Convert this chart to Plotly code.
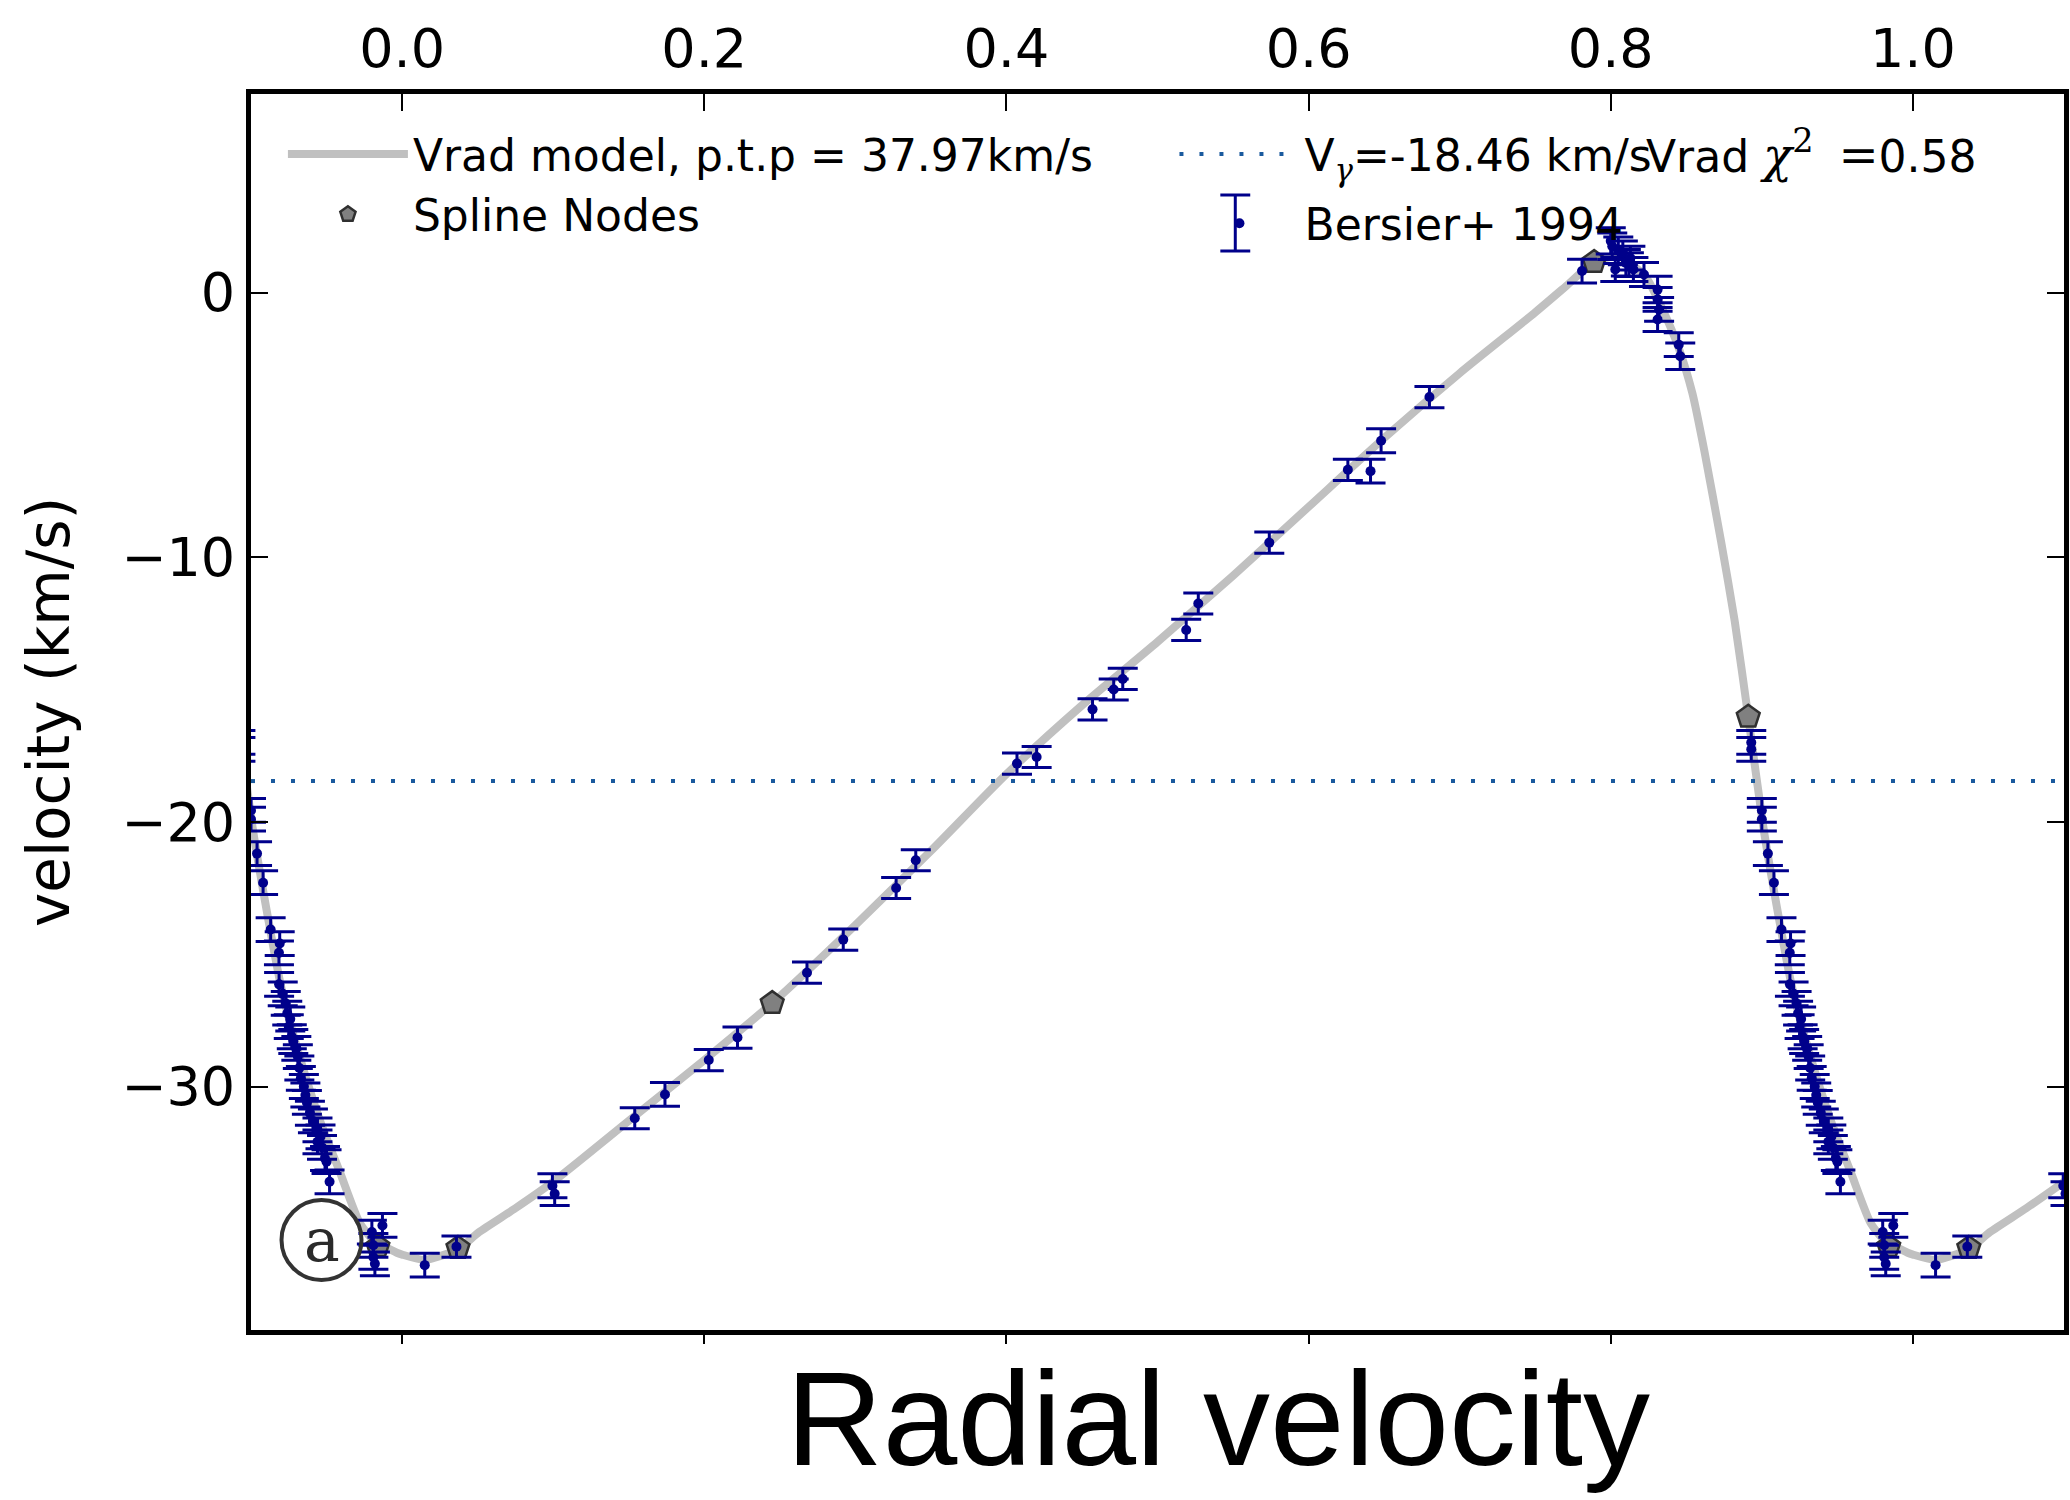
import numpy as np
import plotly.graph_objects as go

# ---------------- data ----------------
# Radial-velocity model (phase, km/s) over one pulsation cycle
model_phase = [0.000, 0.015, 0.037, 0.051, 0.075, 0.100, 0.150, 0.200, 0.245, 0.300,
               0.350, 0.400, 0.450, 0.500, 0.550, 0.600, 0.650, 0.700, 0.750, 0.770,
               0.789, 0.805, 0.823, 0.834, 0.845, 0.854, 0.862, 0.873, 0.882, 0.891,
               0.901, 0.911, 0.920, 0.931, 0.946, 0.959, 0.972, 0.981, 0.9965]
model_v = [-36.35, -36.55, -36.15, -35.50, -34.60, -33.60, -31.30, -29.00, -26.85, -23.90,
           -21.10, -18.20, -15.60, -13.20, -10.70, -8.10, -5.50, -3.05, -0.75, 0.22,
           1.15, 1.37, 0.60, -0.60, -2.10, -3.80, -6.00, -9.40, -12.40, -16.03,
           -20.20, -23.55, -26.25, -28.64, -31.34, -33.26, -35.16, -35.80, -36.28]

# Spline nodes
node_phase = [0.037, 0.245, 0.789, 0.891, 0.984]
node_v = [-36.10, -26.85, 1.15, -16.03, -36.05]

# Bersier+ 1994 measurements
obs_phase = [0.980, 0.987, 0.981, 0.981, 0.982, 0.015, 0.036,
             0.0995, 0.101, 0.154, 0.174, 0.203, 0.222, 0.268, 0.292, 0.327, 0.340,
             0.407, 0.420, 0.457, 0.471, 0.477, 0.519, 0.527, 0.574, 0.626, 0.641,
             0.648, 0.680,
             0.781, 0.800, 0.801, 0.803, 0.805, 0.808, 0.810, 0.812, 0.813, 0.815,
             0.822, 0.831, 0.831, 0.832, 0.831, 0.845, 0.846,
             0.893, 0.893, 0.900, 0.900, 0.904, 0.908, 0.913, 0.919, 0.9185, 0.9186,
             0.921, 0.923, 0.924, 0.925, 0.926, 0.927, 0.928, 0.930, 0.931, 0.932,
             0.933, 0.935, 0.936, 0.937, 0.939, 0.941, 0.944, 0.946, 0.944, 0.947,
             0.949, 0.950, 0.952]
obs_v = [-35.50, -35.25, -36.00, -36.45, -36.70, -36.75, -36.05,
         -33.75, -34.05, -31.20, -30.30, -29.00, -28.15, -25.70, -24.45, -22.50, -21.45,
         -17.80, -17.55, -15.75, -15.00, -14.60, -12.75, -11.75, -9.45, -6.70, -6.75,
         -5.60, -3.95,
         0.81, 1.95, 1.75, 0.87, 1.60, 1.50, 1.12, 1.05, 1.30, 0.87,
         0.68, 0.11, -0.26, -0.64, -1.02, -1.97, -2.41,
         -17.00, -17.26, -19.57, -19.90, -21.20, -22.30, -24.07, -24.60, -24.95, -26.14,
         -26.50, -26.86, -27.23, -27.74, -27.45, -28.12, -28.30, -28.56, -28.87, -29.30,
         -29.69, -30.00, -30.32, -30.60, -31.01, -31.30, -31.64, -31.90, -32.09, -32.30,
         -32.72, -32.84, -33.60]
obs_err = [0.45, 0.45, 0.45, 0.45, 0.45, 0.45, 0.40,
           0.45, 0.45, 0.40, 0.45, 0.40, 0.40, 0.40, 0.40, 0.40, 0.40,
           0.40, 0.40, 0.40, 0.40, 0.40, 0.40, 0.40, 0.40, 0.40, 0.45,
           0.45, 0.40,
           0.45, 0.50, 0.50, 0.45, 0.50, 0.45, 0.50, 0.45, 0.45, 0.45,
           0.45, 0.50, 0.45, 0.45, 0.45, 0.45, 0.50,
           0.45, 0.45, 0.45, 0.45, 0.45, 0.45, 0.45, 0.45, 0.45, 0.45,
           0.45, 0.45, 0.45, 0.45, 0.45, 0.45, 0.45, 0.45, 0.45, 0.45,
           0.45, 0.45, 0.45, 0.45, 0.45, 0.45, 0.45, 0.45, 0.45, 0.45,
           0.45, 0.45, 0.45]

v_gamma = -18.46
ptp = 37.97
chi2 = 0.58

x_ticks = [0.0, 0.2, 0.4, 0.6, 0.8, 1.0]
y_ticks = [0, -10, -20, -30]
x_range = [-0.1, 1.1]
y_range = [-39.2, 7.5]


def unfold(ph, vals, extra=None):
    """Repeat phased data at phase-1, phase, phase+1."""
    ph = np.asarray(ph, float)
    vals = np.asarray(vals, float)
    xs = np.concatenate([ph - 1, ph, ph + 1])
    ys = np.concatenate([vals, vals, vals])
    if extra is not None:
        ex = np.asarray(extra, float)
        return xs, ys, np.concatenate([ex, ex, ex])
    return xs, ys


mx, my = unfold(model_phase, model_v)
order = np.argsort(mx)
mx, my = mx[order], my[order]
keep = (mx > -0.25) & (mx < 1.25)
mx, my = mx[keep], my[keep]

nx, ny = unfold(node_phase, node_v)
ox, oy, oe = unfold(obs_phase, obs_v, obs_err)

SANS = "DejaVu Sans"
SERIF = "DejaVu Serif"
BLUE = "#00008b"

fig = go.Figure()

fig.add_trace(go.Scatter(
    x=mx, y=my, mode="lines",
    line=dict(color="#c0c0c0", width=8, shape="spline", smoothing=0.6),
    name=f"Vrad model, p.t.p = {ptp:.2f}km/s", legend="legend", hoverinfo="skip"))

fig.add_trace(go.Scatter(
    x=x_range, y=[v_gamma, v_gamma], mode="lines",
    line=dict(color="#1a5a9e", width=4, dash="4px,16px"),
    name=f'V<sub><span style="font-family:{SERIF}"><i>γ</i></span></sub>={v_gamma:.2f} km/s',
    legend="legend2", legendgroup="g1"))

fig.add_trace(go.Scatter(
    x=nx, y=ny, mode="markers",
    marker=dict(symbol="pentagon", size=24, color="#808080",
                line=dict(color="#303030", width=2.5)),
    name="Spline Nodes", legend="legend"))

fig.add_trace(go.Scatter(
    x=ox, y=oy, mode="markers",
    marker=dict(symbol="circle", size=10, color=BLUE),
    error_y=dict(type="data", array=oe, visible=True, color=BLUE,
                 thickness=3, width=15),
    name="Bersier+ 1994", legend="legend2", legendgroup="g2"))

# empty trace so the top axis exists
fig.add_trace(go.Scatter(x=[None], y=[None], xaxis="x2", showlegend=False,
                         hoverinfo="skip"))

W, H = 2070, 1500
ML, MR, MT, MB = 251, 1, 94, 170
PW, PH = W - ML - MR, H - MT - MB


def px2paper(px, py):
    return (px - ML) / PW, 1 - (py - MT) / PH


# legend error-bar glyph for "Bersier+ 1994"
gx, gy = px2paper(1238, 223)
half_h = 28 / PH
half_w = 15 / PW
shapes = [
    dict(type="line", xref="paper", yref="paper", x0=gx, x1=gx,
         y0=gy - half_h, y1=gy + half_h, line=dict(color=BLUE, width=3)),
    dict(type="line", xref="paper", yref="paper", x0=gx - half_w, x1=gx + half_w,
         y0=gy - half_h, y1=gy - half_h, line=dict(color=BLUE, width=3)),
    dict(type="line", xref="paper", yref="paper", x0=gx - half_w, x1=gx + half_w,
         y0=gy + half_h, y1=gy + half_h, line=dict(color=BLUE, width=3)),
]
# circled "a" panel tag
cx, cy = px2paper(321.7, 1240)
shapes.append(dict(type="circle", xref="paper", yref="paper",
                   xsizemode="pixel", ysizemode="pixel",
                   xanchor=cx, yanchor=cy, x0=-40, x1=40, y0=-40, y1=40,
                   line=dict(color="#333333", width=4)))

ax_common = dict(showgrid=False, zeroline=False, showline=True,
                 linecolor="black", linewidth=5)

fig.update_layout(
    width=W, height=H,
    margin=dict(l=ML, r=MR, t=MT, b=MB),
    paper_bgcolor="white", plot_bgcolor="white",
    font=dict(family=SANS, color="black"),
    xaxis=dict(range=x_range, tickvals=x_ticks, showticklabels=False,
               ticks="outside", ticklen=9, tickwidth=2, tickcolor="black",
               **ax_common),
    xaxis2=dict(range=x_range, overlaying="x", side="top", anchor="y",
                tickvals=x_ticks, ticktext=[f"{t:.1f}" for t in x_ticks],
                ticks="inside", ticklen=17, tickwidth=2, tickcolor="black",
                tickfont=dict(size=54, family=SANS), **ax_common),
    yaxis=dict(range=y_range, tickvals=y_ticks, ticks="inside", ticklen=17,
               tickwidth=2, tickcolor="black", mirror="ticks",
               tickfont=dict(size=54, family=SANS),
               title=dict(text="velocity (km/s)", font=dict(size=58, family=SANS),
                          standoff=34),
               **ax_common),
    legend=dict(x=px2paper(283, 0)[0], y=px2paper(0, 119)[1], xanchor="left",
                yanchor="top", bgcolor="rgba(0,0,0,0)", borderwidth=0,
                font=dict(size=44, family=SANS), itemwidth=120,
                tracegroupgap=0),
    legend2=dict(x=px2paper(1177, 0)[0], y=px2paper(0, 119)[1], xanchor="left",
                 yanchor="top", bgcolor="rgba(0,0,0,0)", borderwidth=0,
                 font=dict(size=44, family=SANS), itemwidth=120,
                 tracegroupgap=9),
    shapes=shapes,
    annotations=[
        dict(xref="paper", yref="paper", x=px2paper(1648, 0)[0],
             y=px2paper(0, 152)[1], xanchor="left", yanchor="middle",
             showarrow=False, font=dict(size=44, family=SANS),
             text=(f'Vrad <span style="font-family:{SERIF};font-size:48px">'
                   f'<i>χ</i><sup>2</sup>\u2009 =</span>{chi2:.2f}')),
        dict(xref="paper", yref="paper", x=cx, y=cy, xanchor="center",
             yanchor="middle", showarrow=False, text="a",
             font=dict(size=60, family=SERIF, color="#2a2a2a")),
        dict(xref="paper", yref="paper", x=px2paper(1221, 0)[0],
             y=px2paper(0, 1342)[1], xanchor="center", yanchor="top",
             showarrow=False, text="Radial velocity",
             font=dict(size=134, family="Liberation Sans", color="black")),
    ],
)

fig.write_html("out.html")
